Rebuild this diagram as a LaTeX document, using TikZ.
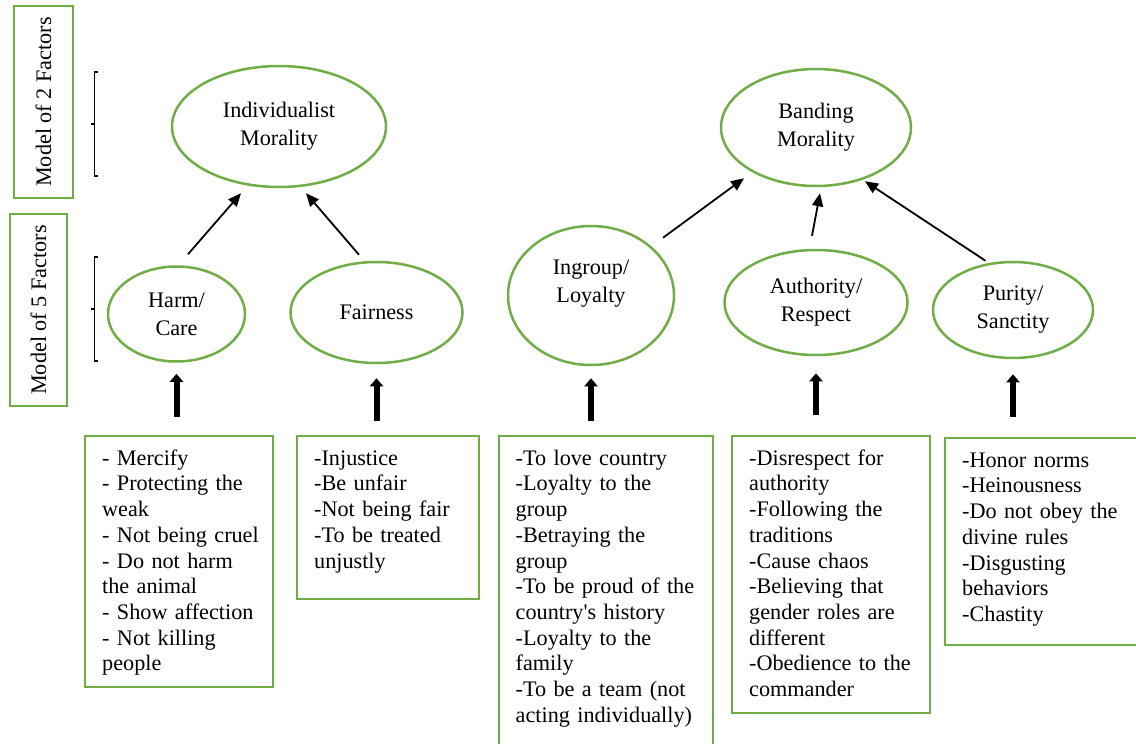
\documentclass[tikz,border=0pt]{standalone}
\usepackage{fontspec}
\setmainfont{Liberation Serif}
\usetikzlibrary{arrows.meta,shapes.geometric}
\definecolor{leaf}{RGB}{112,173,71}

\begin{document}
\begin{tikzpicture}[x=1pt,y=-1pt,>={Triangle[width=11pt,length=13pt]},
                    line width=1.8pt]
\tikzstyle{every node}=[font=\fontsize{22.2}{25.7}\selectfont]
\tikzstyle{moral}=[ellipse,draw=leaf,line width=2.5pt,inner sep=0pt,align=center,
                   font=\fontsize{22.2}{28}\selectfont]
\tikzstyle{listbox}=[draw=leaf,line width=2.4pt,anchor=north west,align=left,
                     inner xsep=17pt,inner ysep=14pt,text height=15pt]
\tikzstyle{modelbox}=[draw=leaf,line width=2.4pt,rotate=90,inner sep=0pt,
                      minimum width=192pt]
\tikzstyle{bigarrow}=[-{Triangle[width=13pt,length=8pt]},line width=6pt]
\useasboundingbox (0,0) rectangle (1136,744);
\clip (0,0) rectangle (1136,744);

\node [modelbox,minimum height=59pt] (m2) at (43.5,102) {Model of 2 Factors};
\node [modelbox,minimum height=57pt] (m5) at (38.5,310) {Model of 5 Factors};

% brackets
\draw [line width=1.2pt] (98,72) -- (94.5,72) -- (94.5,176) -- (98,176)
      (91,124) -- (94.5,124);
\draw [line width=1.2pt] (98,257) -- (94.5,257) -- (94.5,361) -- (98,361)
      (91,309) -- (94.5,309);

\node [moral,minimum width=214pt,minimum height=121pt] (indiv) at (279,126.5) {Individualist\\Morality};
\node [moral,minimum width=190pt,minimum height=117pt] (banding) at (816,127.5) {Banding\\Morality};
\node [moral,minimum width=137pt,minimum height=95pt] (harm) at (176.5,314) {Harm/\\Care};
\node [moral,minimum width=172pt,minimum height=101pt] (fair) at (376.5,312.5) {Fairness};
\node [moral,minimum width=166pt,minimum height=139pt] (ingroup) at (591,295.5) {Ingroup/\\Loyalty\\\mbox{}};
\node [moral,minimum width=183pt,minimum height=105pt] (auth) at (816,302.5) {Authority/\\Respect};
\node [moral,minimum width=160pt,minimum height=96pt] (purity) at (1013,310) {Purity/\\Sanctity};

\node [listbox,text width=154pt,text depth=208pt] (harmlist) at (84,435)
  {- Mercify\\- Protecting the\\weak\\\mbox{- Not being cruel}\\- Do not harm\\the animal\\- Show affection\\- Not killing\\people};
\node [listbox,text width=148pt,text depth=120pt] (fairlist) at (296,435)
  {-Injustice\\-Be unfair\\-Not being fair\\-To be treated\\unjustly};
\node [listbox,text width=180pt,text depth=302pt] (ingrouplist) at (497.5,435)
  {-To love country\\-Loyalty to the\\group\\-Betraying the\\group\\\mbox{-To be proud of the}\\country\textquotesingle s history\\-Loyalty to the\\family\\-To be a team (not\\\mbox{acting individually)}};
\node [listbox,text width=164pt,text depth=234pt] (authlist) at (731,435)
  {-Disrespect for\\authority\\-Following the\\traditions\\-Cause chaos\\-Believing that\\gender roles are\\different\\\mbox{-Obedience to the}\\commander};
\node [listbox,text width=190pt,text depth=164pt] (puritylist) at (944,437)
  {-Honor norms\\-Heinousness\\-Do not obey the\\divine rules\\-Disgusting\\behaviors\\-Chastity};

\draw [->] ([shift={(11.5,-11)}]harm.north) -- ([shift={(-38,5)}]indiv.south);
\draw [->] ([shift={(-17.5,-6)}]fair.north) -- ([shift={(27,5)}]indiv.south);
\draw [->] ([shift={(72,13)}]ingroup.north) -- ([shift={(-72,-9)}]banding.south);
\draw [->] ([shift={(-4,-13)}]auth.north) -- ([shift={(4,6)}]banding.south);
\draw [->] ([shift={(-27.5,0)}]purity.north) -- ([shift={(49,-6)}]banding.south);

\draw [bigarrow,shorten <=18pt,shorten >=11pt] (harm.south |- harmlist.north) -- (harm.south);
\draw [bigarrow,shorten <=14pt,shorten >=14pt] (fair.south |- fairlist.north) -- (fair.south);
\draw [bigarrow,shorten <=14pt,shorten >=12pt] (ingroup.south |- ingrouplist.north) -- (ingroup.south);
\draw [bigarrow,shorten <=20pt,shorten >=17pt] (auth.south |- authlist.north) -- (auth.south);
\draw [bigarrow,xshift=7pt,shorten <=20pt,shorten >=15pt] (purity.south |- puritylist.north) -- (purity.south);

\end{tikzpicture}
\end{document}
